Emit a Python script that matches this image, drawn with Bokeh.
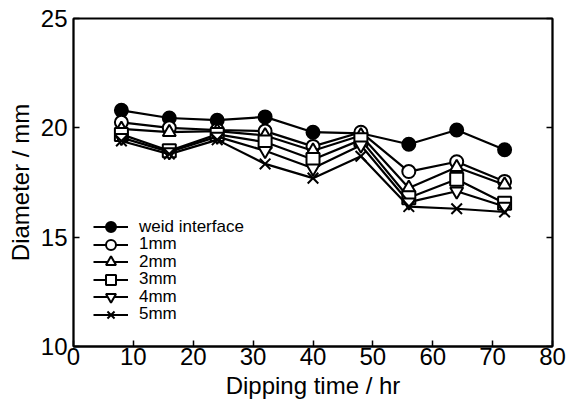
from bokeh.plotting import figure
from bokeh.models import Range1d, LinearAxis, FixedTicker, Legend, LegendItem
from bokeh.embed import file_html
from bokeh.resources import INLINE

hours = [8, 16, 24, 32, 40, 48, 56, 64, 72]
weld = [20.8, 20.45, 20.35, 20.5, 19.8, 19.75, 19.25, 19.9, 19.0]
mm1 = [20.25, 20.0, 19.9, 19.85, 19.15, 19.8, 18.0, 18.45, 17.55]
mm2 = [19.95, 19.8, 19.85, 19.65, 18.95, 19.65, 17.25, 18.2, 17.4]
mm3 = [19.7, 18.95, 19.7, 19.35, 18.55, 19.45, 16.8, 17.65, 16.55]
mm4 = [19.55, 18.9, 19.6, 18.95, 18.15, 19.2, 16.6, 17.1, 16.4]
mm5 = [19.4, 18.8, 19.45, 18.35, 17.7, 18.7, 16.4, 16.3, 16.15]

series = [
    ("weid interface", weld, "circle", "black", 13),
    ("1mm", mm1, "circle", "white", 13),
    ("2mm", mm2, "triangle", "white", 13),
    ("3mm", mm3, "square", "white", 13),
    ("4mm", mm4, "inverted_triangle", "white", 13),
    ("5mm", mm5, "x", "white", 15),
]

x_ticks = [0, 10, 20, 30, 40, 50, 60, 70, 80]
y_ticks = [10, 15, 20, 25]

p = figure(width=580, height=405, output_backend="svg", toolbar_location=None,
           x_range=Range1d(0, 80), y_range=Range1d(10, 25),
           min_border_left=73, min_border_right=28, min_border_top=18, min_border_bottom=59)
p.grid.visible = False
p.outline_line_color = "black"
p.outline_line_width = 1.8
p.background_fill_color = "white"
p.border_fill_color = "white"

font = "Liberation Sans"
for ax in (p.xaxis[0], p.yaxis[0]):
    ax.major_tick_in = 6
    ax.major_tick_out = 0
    ax.minor_tick_line_color = None
    ax.axis_line_width = 1.8
    ax.major_tick_line_width = 1.5
    ax.major_label_text_font = font
    ax.major_label_text_font_size = "24px"
    ax.major_label_text_color = "black"
    ax.axis_label_text_font = font
    ax.axis_label_text_font_size = "24px"
    ax.axis_label_text_font_style = "normal"
    ax.axis_label_text_color = "black"
p.xaxis.ticker = FixedTicker(ticks=x_ticks)
p.yaxis.ticker = FixedTicker(ticks=y_ticks)
p.xaxis.axis_label = "Dipping time / hr"
p.yaxis.axis_label = "Diameter / mm"
p.xaxis.major_label_standoff = 1
p.yaxis.major_label_standoff = 6
p.xaxis.axis_label_standoff = 4
p.yaxis.axis_label_standoff = 4

ry = LinearAxis(ticker=FixedTicker(ticks=y_ticks), major_tick_in=6, major_tick_out=0,
                minor_tick_line_color=None,
                major_label_overrides={t: "" for t in y_ticks},
                axis_line_width=1.8, major_tick_line_width=1.5)
p.add_layout(ry, "right")

row_step = 17.5
for i, (name, vals, marker, fill, msize) in enumerate(series):
    l = p.line(hours, vals, line_color="black", line_width=2.2)
    s = p.scatter(hours, vals, marker=marker, size=msize, line_color="black",
                  fill_color=fill, line_width=2)
    leg = Legend(items=[LegendItem(label=name, renderers=[l, s])],
                 location=(20, 107 - row_step * i), background_fill_alpha=0,
                 border_line_color=None, label_text_font=font, label_text_font_size="17px",
                 label_text_color="black",
                 label_height=25, glyph_height=25, glyph_width=35, spacing=0, padding=0,
                 margin=0, label_standoff=11)
    p.add_layout(leg, "center")

open("out.html", "w").write(file_html(p, INLINE))
